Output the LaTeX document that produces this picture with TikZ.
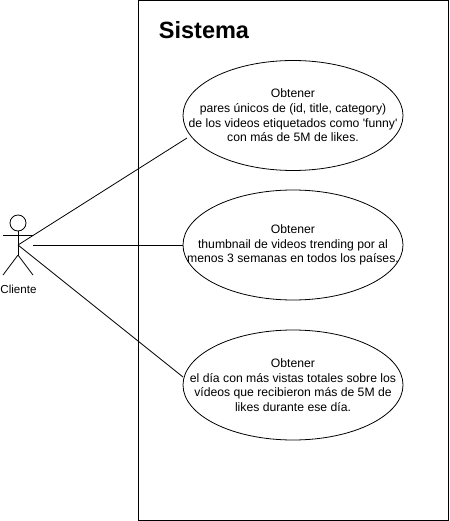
\documentclass[tikz,border=0pt]{standalone}
\usepackage{fontspec}
\setmainfont{Liberation Sans}
\usetikzlibrary{shapes.geometric}
\tikzset{
  usecase/.style={ellipse, draw, line width=0.8pt, minimum width=220pt, minimum height=110pt, inner xsep=-35pt, inner ysep=0pt, align=center, font=\fontsize{12.2}{14.6}\selectfont, execute at begin node=\vspace*{2pt}},
  actorline/.style={line width=0.8pt}
}
\begin{document}
\begin{tikzpicture}[x=1pt,y=-1pt]
\useasboundingbox (0,0) rectangle (449,521);
\node [draw, line width=0.8pt, minimum width=310pt, minimum height=520pt, inner sep=0pt] (sistema) at (293.5,260.5) {};
\node [font=\bfseries\fontsize{23.5}{28}\selectfont] (titulo) at (204,30) {Sistema};

\node [usecase] (A) at (293,115.5) {Obtener\\pares únicos de (id, title, category)\\de los videos etiquetados como \textquotesingle funny\textquotesingle\\con más de 5M de likes.};
\node [usecase] (B) at (293,245) {Obtener\\thumbnail de videos trending por al\\menos 3 semanas en todos los países.};
\node [usecase] (C) at (293,385) {Obtener\\el día con más vistas totales sobre los\\vídeos que recibieron más de 5M de\\likes durante ese día.};

\node [circle, draw, line width=0.8pt, minimum size=16pt, inner sep=0pt] (head) at (18,223) {};
\coordinate (hip) at (18,255);
\coordinate (hand1) at (3,235);
\coordinate (hand2) at (33,235);
\coordinate (foot1) at (3,275);
\coordinate (foot2) at (33,275);
\coordinate (mid) at (18,245);
\node [font=\fontsize{11.6}{14}\selectfont] (cliente) at (18.5,289) {Cliente};
\draw [actorline] (head) -- (hip);
\draw [actorline] (hand1) -- (hand2);
\draw [actorline] (hip) -- (foot1);
\draw [actorline] (hip) -- (foot2);

\coordinate (endA) at (187,138);
\coordinate (startB) at (33,245);
\coordinate (endC) at (183,377);
\draw [actorline] (mid) -- (endA);
\draw [actorline] (startB) -- (B);
\draw [actorline] (mid) -- (endC);
\end{tikzpicture}
\end{document}
